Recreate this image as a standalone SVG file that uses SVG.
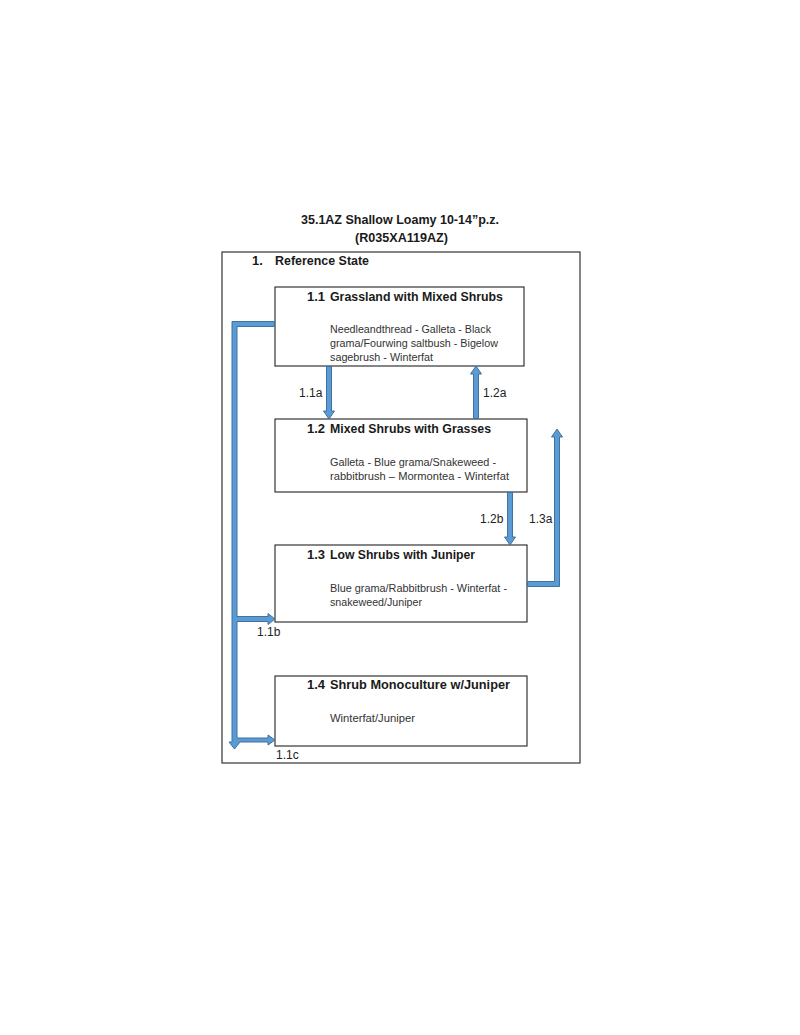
<svg xmlns="http://www.w3.org/2000/svg" width="800" height="1035" viewBox="0 0 800 1035">
<style>
.box{fill:#fff;stroke:#222;stroke-width:1.1}
.outer{fill:none;stroke:#333;stroke-width:1.2}
.hd{font-family:"Liberation Sans",Arial,sans-serif;font-weight:bold;font-size:13px;fill:#1a1a1a}
.bt{font-family:"Liberation Sans",Arial,sans-serif;font-size:10px;fill:#333}
.lb{font-family:"Liberation Sans",Arial,sans-serif;font-size:12px;fill:#222}
.arr{fill:#5b9bd5;stroke:#41719c;stroke-width:1;stroke-linejoin:miter}
</style>
<rect width="800" height="1035" fill="#fff"/>
<g id="title">
<text class="hd" x="301" y="224" textLength="198" lengthAdjust="spacingAndGlyphs">35.1AZ Shallow Loamy 10-14”p.z.</text>
<text class="hd" x="355" y="242" textLength="93" lengthAdjust="spacingAndGlyphs">(R035XA119AZ)</text>
</g>
<g id="state1">
<rect class="outer" x="222" y="252" width="358" height="511"/>
<text class="hd" x="252" y="265">1.</text>
<text class="hd" x="275" y="265" textLength="94" lengthAdjust="spacingAndGlyphs">Reference State</text>
</g>
<g id="node11">
<rect class="box" x="275" y="287" width="249" height="79"/>
<text class="hd" x="307" y="301">1.1</text>
<text class="hd" x="330" y="301" textLength="173" lengthAdjust="spacingAndGlyphs">Grassland with Mixed Shrubs</text>
<text class="bt" x="330" y="333" textLength="161" lengthAdjust="spacingAndGlyphs">Needleandthread - Galleta - Black</text>
<text class="bt" x="330" y="347" textLength="168" lengthAdjust="spacingAndGlyphs">grama/Fourwing saltbush - Bigelow</text>
<text class="bt" x="330" y="361" textLength="103" lengthAdjust="spacingAndGlyphs">sagebrush - Winterfat</text>
</g>
<g id="node12">
<rect class="box" x="275" y="419" width="252" height="73"/>
<text class="hd" x="307" y="433">1.2</text>
<text class="hd" x="330" y="433" textLength="161" lengthAdjust="spacingAndGlyphs">Mixed Shrubs with Grasses</text>
<text class="bt" x="330" y="466" textLength="166" lengthAdjust="spacingAndGlyphs">Galleta - Blue grama/Snakeweed -</text>
<text class="bt" x="330" y="480" textLength="179" lengthAdjust="spacingAndGlyphs">rabbitbrush – Mormontea - Winterfat</text>
</g>
<g id="node13">
<rect class="box" x="275" y="545" width="252" height="77"/>
<text class="hd" x="307" y="559">1.3</text>
<text class="hd" x="330" y="559" textLength="145" lengthAdjust="spacingAndGlyphs">Low Shrubs with Juniper</text>
<text class="bt" x="330" y="592" textLength="177" lengthAdjust="spacingAndGlyphs">Blue grama/Rabbitbrush - Winterfat -</text>
<text class="bt" x="330" y="606" textLength="92" lengthAdjust="spacingAndGlyphs">snakeweed/Juniper</text>
</g>
<g id="node14">
<rect class="box" x="275" y="676" width="252" height="70"/>
<text class="hd" x="307" y="689">1.4</text>
<text class="hd" x="330" y="689" textLength="180" lengthAdjust="spacingAndGlyphs">Shrub Monoculture w/Juniper</text>
<text class="bt" x="330" y="722" textLength="85" lengthAdjust="spacingAndGlyphs">Winterfat/Juniper</text>
</g>
<g id="connectors">
<polygon class="arr" points="326.5,366.5 331.5,366.5 331.5,411 334.5,411 329,419 323.5,411 326.5,411"/>
<polygon class="arr" points="473.5,418.5 478.5,418.5 478.5,374 481.5,374 476,366 470.5,374 473.5,374"/>
<polygon class="arr" points="507.5,492.5 512.5,492.5 512.5,537 515.5,537 510,545 504.5,537 507.5,537"/>
<polygon class="arr" points="527.5,581.5 554.5,581.5 554.5,437 551.5,437 557,429 562.5,437 559.5,437 559.5,586.5 527.5,586.5"/>
<polygon class="arr" points="274.5,321.5 232,321.5 232,742 229,742 234.5,749 240,742 268,742 268,745 275,740 268,735 268,738 237,738 237,621.5 268,621.5 268,624.5 275,619 268,613.5 268,616.5 237,616.5 237,326.5 274.5,326.5"/>
<text class="lb" x="299" y="397">1.1a</text>
<text class="lb" x="483" y="397">1.2a</text>
<text class="lb" x="480" y="523">1.2b</text>
<text class="lb" x="529" y="523">1.3a</text>
<text class="lb" x="257" y="636">1.1b</text>
<text class="lb" x="276" y="759">1.1c</text>
</g>
</svg>
